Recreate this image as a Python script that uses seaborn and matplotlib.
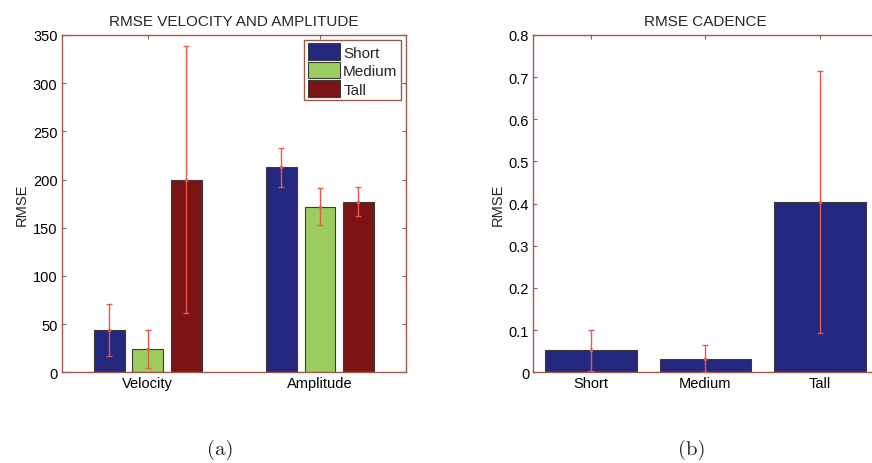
import matplotlib
matplotlib.use("Agg")
import matplotlib.pyplot as plt
import seaborn as sns
import pandas as pd
import numpy as np

# Panel (a): RMSE of velocity and amplitude per height group
metrics = ["Velocity", "Amplitude"]
groups = ["Short", "Medium", "Tall"]
rmse_short = [44, 212.5]
rmse_medium = [24, 172]
rmse_tall = [200, 177]
sd_short = [27, 20.5]
sd_medium = [20, 19.5]
sd_tall = [138.5, 15]

# Panel (b): RMSE of cadence per height group
cadence_rmse = [0.052, 0.032, 0.403]
cadence_sd = [0.048, 0.032, 0.311]

group_colors = ["#25287f", "#9bce5e", "#7c1416"]
spine_color = "#9a5b4a"
err_color = "#e8584a"

sns.set_theme(style="white")
plt.rcParams["font.family"] = ["Liberation Sans", "DejaVu Sans"]

fig = plt.figure(figsize=(8.72, 4.64), dpi=100)
ax1 = fig.add_axes([0.0708, 0.1955, 0.3948, 0.727])
ax2 = fig.add_axes([0.6116, 0.1955, 0.3947, 0.727])

df = pd.DataFrame({
    "metric": metrics * 3,
    "group": sum([[g] * len(metrics) for g in groups], []),
    "rmse": rmse_short + rmse_medium + rmse_tall,
})
sds = {"Short": sd_short, "Medium": sd_medium, "Tall": sd_tall}

sns.barplot(data=df, x="metric", y="rmse", hue="group", order=metrics,
            hue_order=groups, palette=group_colors, width=0.672, gap=0.2,
            edgecolor="#3a3a3a", linewidth=0.8, saturation=1, errorbar=None,
            ax=ax1)
bar_sets = list(ax1.containers)

for g, cont in zip(groups, bar_sets):
    for patch, sd in zip(cont.patches, sds[g]):
        cx = patch.get_x() + patch.get_width() / 2
        h = patch.get_height()
        ax1.errorbar(cx, h, yerr=sd, fmt=".", color=err_color, ms=3,
                     elinewidth=1, capsize=2.5, capthick=1, zorder=5)

ax1.set_ylim(0, 350)
ax1.set_xlim(-0.5, 1.5)
ax1.set_yticks(np.arange(0, 351, 50))
ax1.set_xlabel("")
ax1.set_ylabel("RMSE", fontsize=10.5, labelpad=3)
ax1.set_title("RMSE VELOCITY AND AMPLITUDE", fontsize=11, pad=7)

handles = [c.patches[0] for c in bar_sets]
leg = ax1.legend(handles, groups, loc="upper right", fontsize=11,
                 frameon=True, fancybox=False, framealpha=1,
                 edgecolor=spine_color, handlelength=2.1, handleheight=1.25,
                 handletextpad=0.2, borderpad=0.25, labelspacing=0.15,
                 borderaxespad=0.3)
leg.get_frame().set_linewidth(1.0)

cad = pd.DataFrame({"group": groups, "rmse": cadence_rmse})
sns.barplot(data=cad, x="group", y="rmse", order=groups, color=group_colors[0],
            width=0.8, edgecolor="#3a3a3a", linewidth=0.8, saturation=1,
            errorbar=None, ax=ax2)
cad_bars = ax2.containers[0]
for patch, sd in zip(cad_bars.patches, cadence_sd):
    cx = patch.get_x() + patch.get_width() / 2
    h = patch.get_height()
    ax2.errorbar(cx, h, yerr=sd, fmt=".", color=err_color, ms=3,
                 elinewidth=1, capsize=2.5, capthick=1, zorder=5)

ax2.set_ylim(0, 0.8)
ax2.set_xlim(-0.5, 2.5)
ax2.set_yticks(np.arange(0, 0.81, 0.1))
ax2.set_yticklabels(["0"] + [f"{v:.1f}" for v in np.arange(0.1, 0.81, 0.1)])
ax2.set_xlabel("")
ax2.set_ylabel("RMSE", fontsize=10.5, labelpad=3)
ax2.set_title("RMSE CADENCE", fontsize=11, pad=7)

for ax in (ax1, ax2):
    for s in ax.spines.values():
        s.set_visible(True)
        s.set_color(spine_color)
        s.set_linewidth(1.0)
    ax.tick_params(direction="in", length=3, width=0.8, color=spine_color,
                   top=True, right=True, bottom=True, left=True,
                   labelsize=10.5, labelcolor="black", pad=3)
    ax.set_facecolor("white")

fig.text(220 / 872, 1 - 450 / 464, "(a)", family="cmr10", fontsize=15,
         ha="center", va="center")
fig.text(692 / 872, 1 - 450 / 464, "(b)", family="cmr10", fontsize=15,
         ha="center", va="center")

fig.savefig("out.png", dpi=100, facecolor="white")
